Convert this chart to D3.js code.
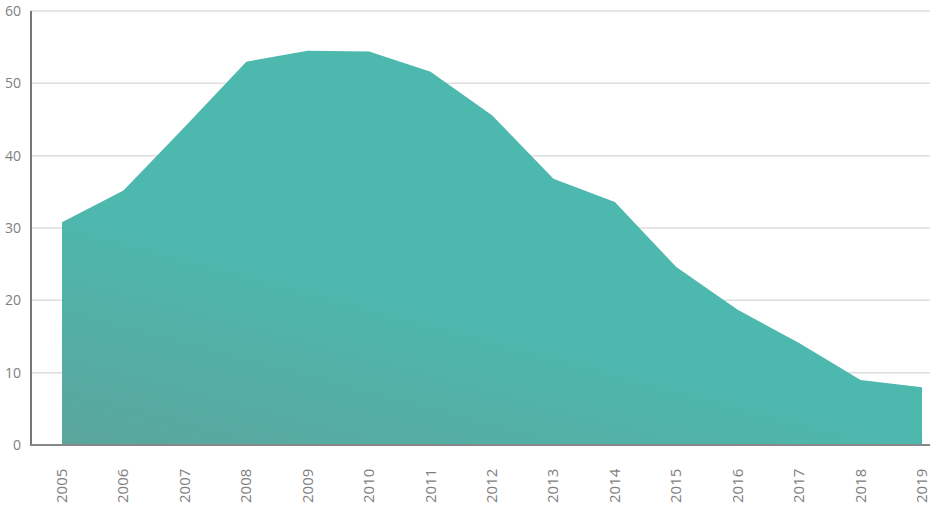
<!DOCTYPE html>
<html>
<head>
<meta charset="utf-8">
<script src="https://cdn.jsdelivr.net/npm/d3@7"></script>
<style>
  body { margin: 0; background: #fff; }
  svg { display: block; }
</style>
</head>
<body>
<div id="chart"></div>
<script>
var years = [2005, 2006, 2007, 2008, 2009, 2010, 2011, 2012, 2013, 2014, 2015, 2016, 2017, 2018, 2019];
var values = [30.8, 35.2, 44.0, 53.0, 54.5, 54.4, 51.6, 45.6, 36.8, 33.6, 24.6, 18.7, 14.1, 9.0, 8.0];
var yTicks = [0, 10, 20, 30, 40, 50, 60];

var fullWidth = 930;
var fullHeight = 507;
var mainFont = '"Open Sans", "DejaVu Sans", sans-serif';
var textColor = '#808080';

window.onload = function() {
    render();
};

function render() {
    var svg = d3.select('#chart').append('svg')
        .attr('width', fullWidth)
        .attr('height', fullHeight);

    var axisX = 31;
    var x = d3.scalePoint()
        .domain(years)
        .range([62, 922]);
    var y = d3.scaleLinear()
        .domain([0, 60])
        .range([445, 11]);

    // gradient fill: a bit greyer towards the bottom left
    var grad = svg.append('defs').append('linearGradient')
        .attr('id', 'areaFill')
        .attr('gradientUnits', 'userSpaceOnUse')
        .attr('x1', 80).attr('y1', 445)
        .attr('x2', 140).attr('y2', 220);
    grad.append('stop').attr('offset', 0).attr('stop-color', '#5aa69d');
    grad.append('stop').attr('offset', 1).attr('stop-color', '#4db8ae');

    // grid lines
    svg.append('g')
        .selectAll('line')
        .data(yTicks.filter(function(d) { return d > 0; }))
        .join('line')
        .attr('x1', axisX)
        .attr('x2', fullWidth)
        .attr('y1', function(d) { return y(d); })
        .attr('y2', function(d) { return y(d); })
        .attr('stroke', '#dedede')
        .attr('stroke-width', 1.5);

    // the area
    var area = d3.area()
        .x(function(d, i) { return x(years[i]); })
        .y0(y(0))
        .y1(function(d) { return y(d); });
    svg.append('path')
        .attr('d', area(values))
        .attr('fill', 'url(#areaFill)');

    // y axis line and bottom line
    svg.append('line')
        .attr('x1', axisX).attr('x2', axisX)
        .attr('y1', y(60)).attr('y2', y(0) + 1)
        .attr('stroke', '#777')
        .attr('stroke-width', 2);
    svg.append('line')
        .attr('x1', axisX).attr('x2', fullWidth)
        .attr('y1', y(0)).attr('y2', y(0))
        .attr('stroke', '#888')
        .attr('stroke-width', 2);

    // y labels
    svg.append('g')
        .selectAll('text')
        .data(yTicks)
        .join('text')
        .attr('x', 21)
        .attr('y', function(d) { return y(d) + 5; })
        .style('text-anchor', 'end')
        .style('font-family', mainFont)
        .style('font-size', '14px')
        .style('fill', textColor)
        .text(function(d) { return d; });

    // x labels, rotated
    svg.append('g')
        .selectAll('text')
        .data(years)
        .join('text')
        .attr('transform', function(d) {
            return 'translate(' + (x(d) + 5) + ',' + 503 + ') rotate(-90)';
        })
        .style('text-anchor', 'start')
        .style('font-family', mainFont)
        .style('font-size', '15px')
        .style('fill', textColor)
        .text(function(d) { return d; });
}
</script>
</body>
</html>
